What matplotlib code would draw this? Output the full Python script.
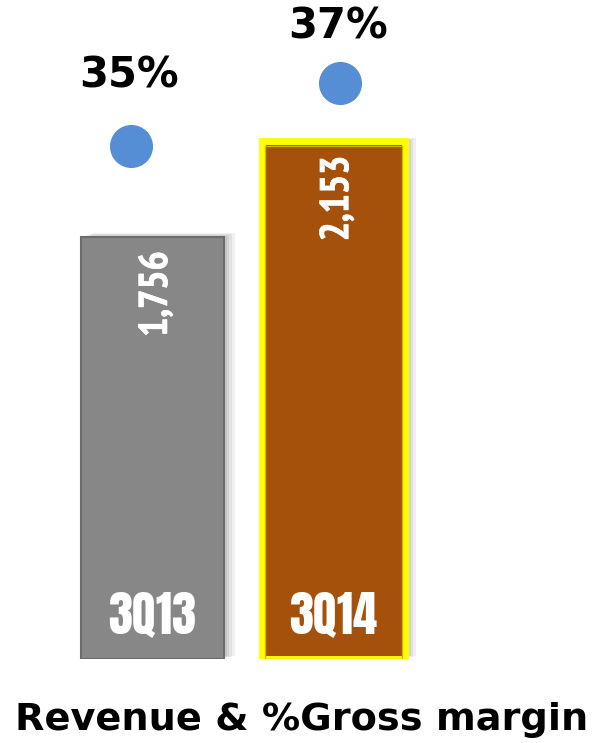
import matplotlib.pyplot as plt
import matplotlib.patheffects as pe

# Data
categories = ["3Q13", "3Q14"]
revenue = [1756, 2153]
gross_margin = [35, 37]
value_labels = ["1,756", "2,153"]
margin_labels = ["35%", "37%"]

bar_colors = ["#878787", "#A5500B"]
edge_colors = ["#6C6C6C", "#FFFF00"]
edge_widths = [1.5, 5.0]

fig = plt.figure(figsize=(5.95, 7.43), dpi=100)
rect = [0, 84 / 743, 1, 659 / 743]

# Bars (revenue)
ax = fig.add_axes(rect)
ax.set_xlim(-0.8405, 2.443)
ax.set_ylim(0, 2741)
ax.axis("off")

shadow = [pe.SimplePatchShadow(offset=(d, d * 0.3), shadow_rgbFace="#000000", alpha=0.06)
          for d in (2, 4, 6, 8)] + [pe.Normal()]

x = list(range(len(categories)))
bars = ax.bar(x, revenue, width=0.79, color=bar_colors, zorder=2)
for b, ec, lw in zip(bars, edge_colors, edge_widths):
    b.set_edgecolor(ec)
    b.set_linewidth(lw)
    b.set_path_effects(shadow)

# thin darker line on the inside of the yellow frame
ax.bar(x[1], revenue[1] - 20, width=0.755, color="none", edgecolor="#C9B800",
       linewidth=1.0, zorder=2.5)

# value labels inside bars (rotated)
for xi, v, lab in zip(x, revenue, value_labels):
    ax.annotate(lab, (xi, v), xytext=(3, -10.5), textcoords="offset points",
                rotation=90, ha="center", va="top", color="white",
                fontsize=29, fontweight="bold",
                family=["PT Sans Narrow", "DejaVu Sans"], zorder=3,
                path_effects=[pe.withStroke(linewidth=0.5, foreground="white")])

# category labels at the bottom of the bars
for xi, cat in zip(x, categories):
    ax.annotate(cat, (xi, 0), xytext=(0, 31), textcoords="offset points",
                ha="center", va="center", color="white",
                fontsize=35, family=["Anton", "DejaVu Sans"], zorder=3)

# Gross margin dots on an overlay axes
ax2 = fig.add_axes(rect)
ax2.set_xlim(-0.6268, 2.220)
ax2.set_ylim(18.714, 39.635)
ax2.axis("off")
ax2.plot(x, gross_margin, linestyle="none", marker="o", markersize=30,
         color="#558ED5", zorder=4)

label_offsets = [51, 41]
for xi, m, lab, off in zip(x, gross_margin, margin_labels, label_offsets):
    ax2.annotate(lab, (xi, m), xytext=(-1.5, off), textcoords="offset points",
                 ha="center", va="center", fontsize=30, fontweight="bold",
                 color="black", annotation_clip=False)

fig.text(0.507, 13 / 743, "Revenue & %Gross margin", ha="center", va="baseline",
         fontsize=27.5, fontweight="bold", color="black")

plt.savefig("out.png", dpi=100)
